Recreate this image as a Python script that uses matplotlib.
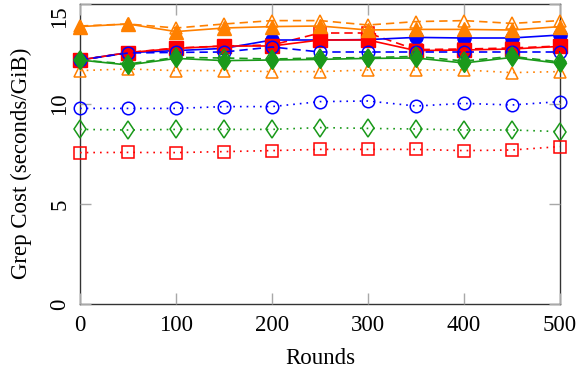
import numpy as np
import matplotlib
matplotlib.use("Agg")
import matplotlib.pyplot as plt
from matplotlib.transforms import ScaledTranslation

# rounds on the x axis
rounds = [0, 50, 100, 150, 200, 250, 300, 350, 400, 450, 500]

# solid lines, filled markers
blue_solid = [12.2, 12.57, 12.67, 12.78, 13.2, 13.2, 13.22, 13.33, 13.3, 13.3, 13.45]
red_solid = [12.2, 12.57, 12.78, 12.9, 12.9, 13.2, 13.2, 12.67, 12.7, 12.75, 12.88]
green_solid = [12.2, 11.95, 12.28, 12.17, 12.2, 12.23, 12.28, 12.3, 12.05, 12.33, 12.03]
orange_solid = [13.87, 14.0, 13.62, 13.8, 13.87, 13.9, 13.7, 13.73, 13.73, 13.7, 13.87]

# dashed lines, open markers
blue_dashed = [12.2, 12.55, 12.58, 12.6, 12.85, 12.6, 12.6, 12.6, 12.6, 12.6, 12.6]
red_dashed = [12.2, 12.57, 12.8, 12.9, 12.95, 13.55, 13.55, 12.72, 12.75, 12.8, 12.9]
green_dashed = [12.2, 12.0, 12.33, 12.3, 12.25, 12.3, 12.32, 12.38, 12.15, 12.38, 12.1]
orange_dashed = [13.9, 14.0, 13.8, 14.0, 14.17, 14.17, 13.95, 14.12, 14.17, 14.03, 14.17]

# dotted lines, open markers
orange_dotted = [11.67, 11.75, 11.67, 11.67, 11.62, 11.62, 11.7, 11.7, 11.7, 11.57, 11.62]
blue_dotted = [9.78, 9.78, 9.78, 9.87, 9.87, 10.12, 10.15, 9.9, 10.03, 9.95, 10.12]
green_dotted = [8.73, 8.7, 8.73, 8.73, 8.73, 8.82, 8.78, 8.75, 8.7, 8.7, 8.62]
red_dotted = [7.57, 7.58, 7.57, 7.62, 7.67, 7.73, 7.73, 7.73, 7.67, 7.7, 7.87]

xticks = [0, 100, 200, 300, 400, 500]
yticks = [0, 5, 10, 15]

BLUE = "#0000ff"
RED = "#ff0000"
GREEN = "#1a991a"
ORANGE = "#ff8000"

plt.rcParams["font.family"] = ["Liberation Serif", "DejaVu Serif"]
plt.rcParams["font.size"] = 16.5

fig = plt.figure(figsize=(5.82, 3.75), dpi=100)
ax = fig.add_axes([80 / 582, 1 - 304 / 375, 480 / 582, 300 / 375])

dash = (0, (5, 3))
dot = (0, (1, 3))
lw = 1.2
kw = dict(lw=lw, clip_on=False)
open_kw = dict(mfc="none", mew=1.1)

# dotted series first, they sit underneath
ax.plot(rounds, orange_dotted, color=ORANGE, ls=dot, marker="^", ms=9, **open_kw, **kw)
ax.plot(rounds, blue_dotted, color=BLUE, ls=dot, marker="o", ms=9, **open_kw, **kw)
ax.plot(rounds, green_dotted, color=GREEN, ls=dot, marker="d", ms=9.5, **open_kw, **kw)
ax.plot(rounds, red_dotted, color=RED, ls=dot, marker="s", ms=9, **open_kw, **kw)

ax.plot(rounds, red_dashed, color=RED, ls=dash, marker="s", ms=9, mfc="white", mew=1.1, **kw)
ax.plot(rounds, blue_solid, color=BLUE, ls="-", marker="o", ms=9.5, **kw)
ax.plot(rounds, red_solid, color=RED, ls="-", marker="s", ms=9.5, **kw)
ax.plot(rounds, blue_dashed, color=BLUE, ls=dash, marker="o", ms=9, **open_kw, **kw)
ax.plot(rounds, green_solid, color=GREEN, ls="-", marker="d", ms=9.5, **kw)
ax.plot(rounds, green_dashed, color=GREEN, ls=dash, marker="d", ms=9.5, **open_kw, **kw)
ax.plot(rounds, orange_solid, color=ORANGE, ls="-", marker="^", ms=9.5, **kw)
ax.plot(rounds, orange_dashed, color=ORANGE, ls=dash, marker="^", ms=9, **open_kw, **kw)

ax.set_xlim(0, 500)
ax.set_ylim(0, 15)
ax.set_xticks(xticks)
ax.set_yticks(yticks)

ax.tick_params(direction="in", length=8, width=1, color="#a8a8a8",
               top=True, right=True, labelsize=16.5)
ax.tick_params(axis="x", pad=8)
ax.tick_params(axis="y", pad=7, labelrotation=90)
for lab in ax.get_yticklabels():
    lab.set_va("center")
# the top label is pushed down so it stays inside the picture
top_lab = ax.get_yticklabels()[-1]
top_lab.set_transform(top_lab.get_transform() + ScaledTranslation(0, -13 / 100, fig.dpi_scale_trans))

for sp in ax.spines.values():
    sp.set_color("#333333")
    sp.set_linewidth(1)
    sp.set_zorder(1)

ax.set_xlabel("Rounds", fontsize=16.5)
ax.set_ylabel("Grep Cost (seconds/GiB)", fontsize=16.5)
ax.xaxis.set_label_coords(0.5, -0.145)
ax.yaxis.set_label_coords(-0.1, 0.47)

fig.savefig("out.png", dpi=100)
